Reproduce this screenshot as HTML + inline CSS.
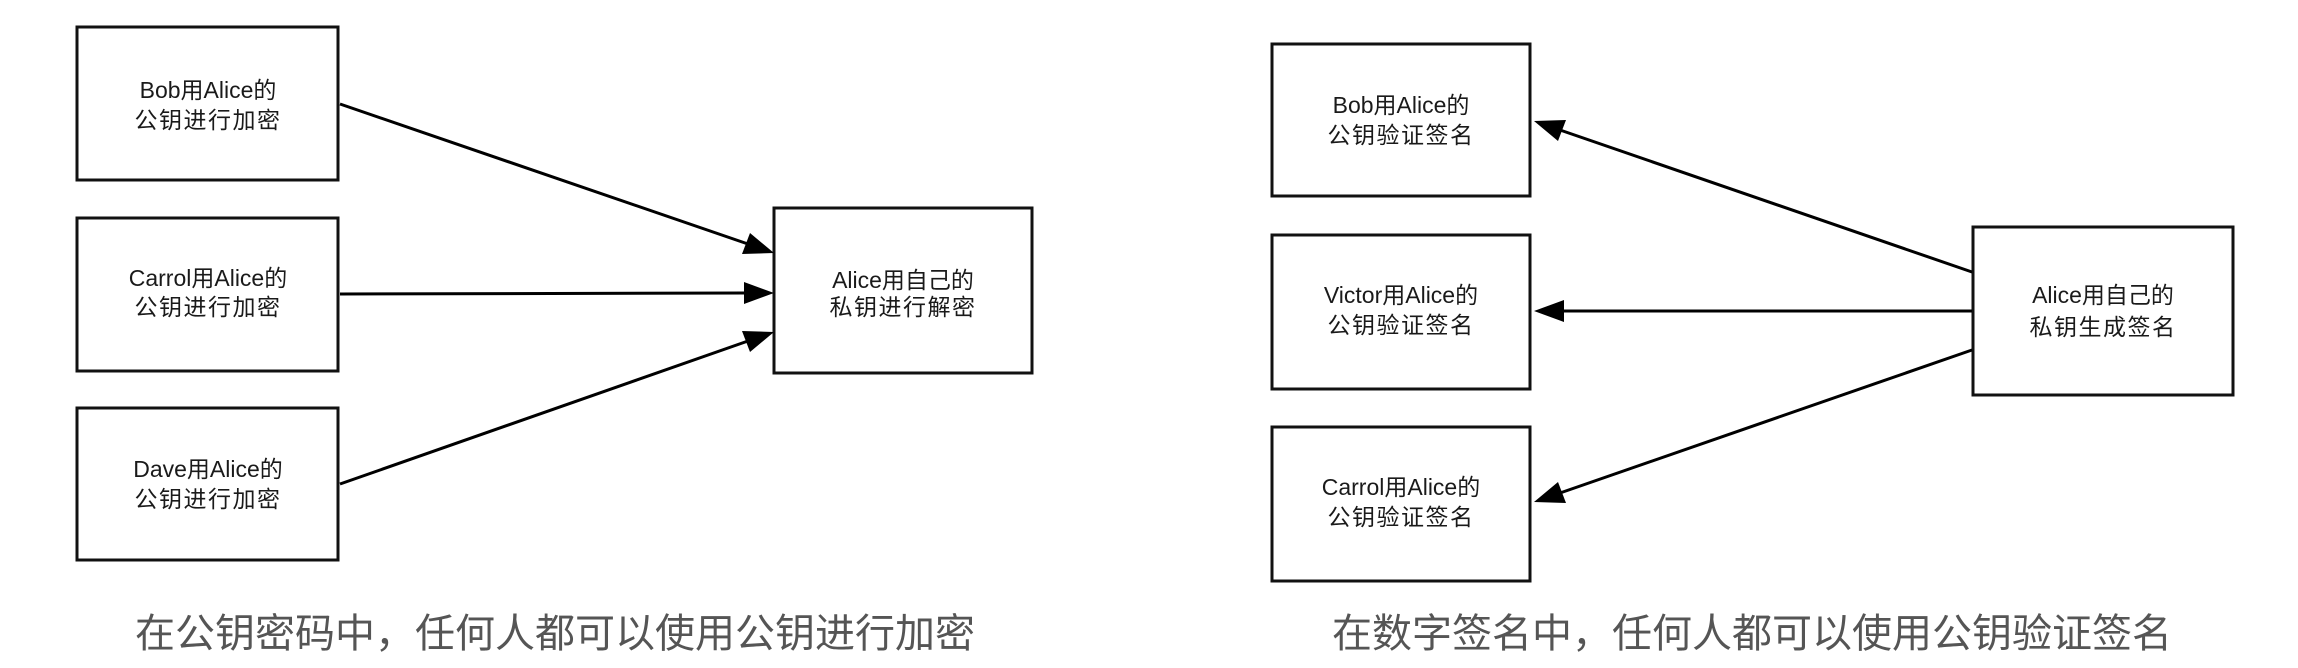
<!DOCTYPE html>
<html><head><meta charset="utf-8"><style>
html,body{margin:0;padding:0;background:#fff;width:2298px;height:668px;overflow:hidden}
svg text{font-family:"Liberation Sans","Noto Sans CJK SC",sans-serif}
.l{font-size:23px;fill:#1a1a1a;text-anchor:middle;dominant-baseline:central}
.c{font-size:40px;fill:#555;text-anchor:middle;dominant-baseline:central}
</style></head><body>
<svg width="2298" height="668" viewBox="0 0 2298 668" xmlns="http://www.w3.org/2000/svg">
<defs><marker id="a" markerWidth="10" markerHeight="8" refX="10" refY="4" orient="auto" markerUnits="userSpaceOnUse" viewBox="0 0 10 8" preserveAspectRatio="none" style="overflow:visible"><path d="M0,0 L10,4 L0,8 z" fill="#000" transform="scale(3,2.6) translate(-6.7,-2.46)"/></marker></defs>
<g fill="none" stroke="#111" stroke-width="3">
<rect x="77" y="27" width="261" height="153"/>
<rect x="77" y="218" width="261" height="153"/>
<rect x="77" y="408" width="261" height="152"/>
<rect x="774" y="208" width="258" height="165"/>
<rect x="1272" y="44" width="258" height="152"/>
<rect x="1272" y="235" width="258" height="154"/>
<rect x="1272" y="427" width="258" height="154"/>
<rect x="1973" y="227" width="260" height="168"/>
</g>
<g stroke="#000" stroke-width="3">
<line x1="340" y1="104" x2="748" y2="244"/>
<line x1="340" y1="294" x2="745" y2="293"/>
<line x1="340" y1="484" x2="748" y2="341"/>
<line x1="1972" y1="272" x2="1560" y2="130"/>
<line x1="1972" y1="311" x2="1562" y2="311"/>
<line x1="1972" y1="350" x2="1560" y2="493"/>
</g>
<g fill="#000">
<polygon points="774,253 742,254 750,233"/>
<polygon points="774,293 744,282 744,304"/>
<polygon points="774,332 750,352 742,331"/>
<polygon points="1534,121 1566,120 1558,141"/>
<polygon points="1534,311 1564,300 1564,322"/>
<polygon points="1534,502 1558,482 1566,503"/>
</g>
<g class="l">
<text class="l" x="208" y="90">Bob用Alice的</text><text class="l" x="208" y="120" letter-spacing="1.5">公钥进行加密</text>
<text class="l" x="208" y="278">Carrol用Alice的</text><text class="l" x="208" y="307" letter-spacing="1.5">公钥进行加密</text>
<text class="l" x="208" y="469">Dave用Alice的</text><text class="l" x="208" y="499" letter-spacing="1.5">公钥进行加密</text>
<text class="l" x="903" y="280">Alice用自己的</text><text class="l" x="903" y="307" letter-spacing="1.5">私钥进行解密</text>
<text class="l" x="1401" y="105">Bob用Alice的</text><text class="l" x="1401" y="135" letter-spacing="1.5">公钥验证签名</text>
<text class="l" x="1401" y="295">Victor用Alice的</text><text class="l" x="1401" y="325" letter-spacing="1.5">公钥验证签名</text>
<text class="l" x="1401" y="487">Carrol用Alice的</text><text class="l" x="1401" y="517" letter-spacing="1.5">公钥验证签名</text>
<text class="l" x="2103" y="295">Alice用自己的</text><text class="l" x="2103" y="327" letter-spacing="1.5">私钥生成签名</text>
</g>
<text class="c" x="555" y="634">在公钥密码中，任何人都可以使用公钥进行加密</text>
<text class="c" x="1752" y="634">在数字签名中，任何人都可以使用公钥验证签名</text>
</svg>
</body></html>
